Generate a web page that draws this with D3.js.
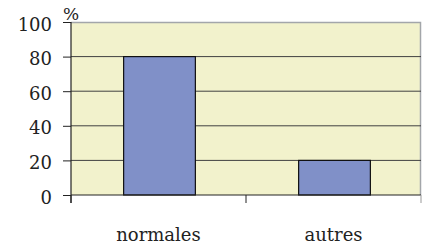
<!DOCTYPE html>
<html>
<head>
<meta charset="utf-8">
<script src="https://cdn.jsdelivr.net/npm/d3@7"></script>
<style>
  body { margin: 0; background: #fff; }
</style>
</head>
<body>
<div id="chart"></div>
<script>
var categories = ["normales", "autres"];
var values = [80, 20];
var yTicks = [0, 20, 40, 60, 80, 100];
var yUnit = "%";

var serif = "'DejaVu Serif', serif";

var margin = {left: 71, right: 7, top: 22, bottom: 50};
var width = 428 - margin.left - margin.right;
var height = 245 - margin.top - margin.bottom;

var svg = d3.select("#chart").append("svg")
    .attr("width", 428)
    .attr("height", 245)
  .append("g")
    .attr("transform", "translate(" + margin.left + "," + margin.top + ")");

var x = d3.scaleBand()
  .domain(categories)
  .range([0, width])
  .padding(0);
var y = d3.scaleLinear()
  .domain([0, 100])
  .range([height, 0]);

// plot background
svg.append("rect")
  .attr("width", width)
  .attr("height", height)
  .attr("fill", "#f2f2cc");

// gray top/right frame
svg.append("path")
  .attr("d", "M0,0.5H" + (width - 0.5) + "V" + height)
  .attr("fill", "none")
  .attr("stroke", "#a3a6aa")
  .attr("stroke-width", 1.5);

// gridlines
svg.selectAll(".grid")
  .data(yTicks.filter(d => d > 0 && d < 100))
  .enter().append("line")
  .attr("x1", 0)
  .attr("x2", width)
  .attr("y1", d => y(d))
  .attr("y2", d => y(d))
  .attr("stroke", "#404040")
  .attr("stroke-width", 1);

// bars
var barW = x.bandwidth() * 0.41;
svg.selectAll(".bar")
  .data(values)
  .enter().append("rect")
  .attr("x", (d, i) => x(categories[i]) + x.bandwidth() / 2 - barW / 2 + 1)
  .attr("y", d => y(d))
  .attr("width", barW)
  .attr("height", d => height - y(d))
  .attr("fill", "#8090c8")
  .attr("stroke", "#111")
  .attr("stroke-width", 1.2);

// y axis
var yAxis = svg.append("g")
  .call(d3.axisLeft(y).tickValues(yTicks).tickSize(8).tickPadding(11));
yAxis.select(".domain").attr("stroke", "#222").attr("stroke-width", 1.2)
  .attr("d", "M0," + (height + 8) + "V0");
yAxis.selectAll(".tick line").attr("stroke", "#222");
yAxis.selectAll("text")
  .attr("font-family", serif)
  .attr("font-size", 18)
  .attr("fill", "#222")
  .attr("dy", "0.45em");

// x axis
var xAxis = svg.append("g")
  .attr("transform", "translate(0," + height + ")");
xAxis.append("line")
  .attr("x1", 0).attr("x2", width)
  .attr("stroke", "#222").attr("stroke-width", 1.2);
xAxis.selectAll(".xtick")
  .data(categories.concat(["end"]))
  .enter().append("line")
  .attr("x1", (d, i) => i * x.step())
  .attr("x2", (d, i) => i * x.step())
  .attr("y1", 0).attr("y2", 8)
  .attr("stroke", (d, i) => i == categories.length ? "#999" : "#222");
xAxis.selectAll(".xlabel")
  .data(categories)
  .enter().append("text")
  .attr("x", d => x(d) + x.bandwidth() / 2)
  .attr("y", 46)
  .attr("text-anchor", "middle")
  .attr("font-family", serif)
  .attr("font-size", 18)
  .attr("fill", "#222")
  .text(d => d);

svg.append("text")
  .attr("x", 0)
  .attr("y", -2)
  .attr("text-anchor", "middle")
  .attr("font-family", serif)
  .attr("font-size", 17)
  .attr("fill", "#222")
  .text(yUnit);
</script>
</body>
</html>
